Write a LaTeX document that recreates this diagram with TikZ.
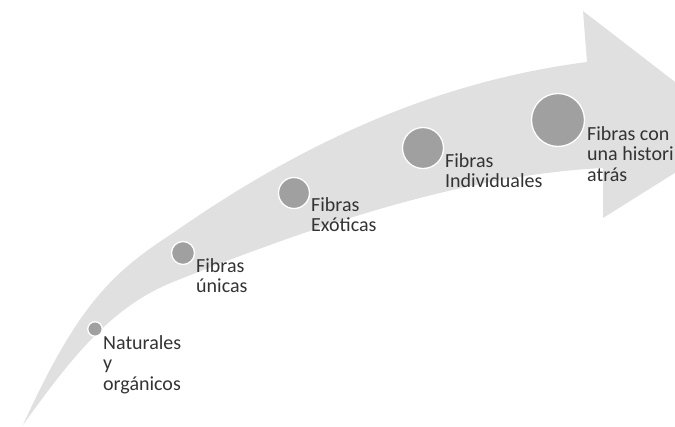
\documentclass[tikz,border=0pt]{standalone}
\usepackage{fontspec}
\setmainfont{Carlito}
\begin{document}
\begin{tikzpicture}[x=1pt,y=-1pt,
  dot/.style={circle,fill=dotgray,draw=white,line width=1.3pt,inner sep=0pt},
  lbl/.style={anchor=north west,inner sep=0pt,align=left,text=txtgray,
    font=\fontsize{20}{20.5}\selectfont}]
\definecolor{arrowgray}{HTML}{E0E0E0}
\definecolor{dotgray}{HTML}{A0A0A0}
\definecolor{txtgray}{HTML}{333333}
\useasboundingbox (0,0) rectangle (675,426);
\begin{scope}
\clip (0,0) rectangle (675,426);
% curved arrow
\fill[arrowgray] (23,425)
  .. controls (78,304) and (113,272) .. (173,233)
  .. controls (313,135) and (447,80) .. (587,62)
  -- (583,11) -- (740,132) -- (603,218) -- (603,168)
  .. controls (463,175) and (313,226) .. (173,282)
  .. controls (113,306) and (73,355) .. (23,425)
  -- cycle;
\end{scope}
% milestones
\node[dot,minimum size=14.5pt] (c1) at (95,329) {};
\node[dot,minimum size=23pt] (c2) at (183,253) {};
\node[dot,minimum size=31pt] (c3) at (294,193) {};
\node[dot,minimum size=41pt] (c4) at (423,148) {};
\node[dot,minimum size=53pt] (c5) at (558,120) {};
% labels
\node[lbl] (t1) at (103,335) {Naturales\\y\\orgánicos};
\node[lbl] (t2) at (196,258) {Fibras\\únicas};
\node[lbl] (t3) at (311,197) {Fibras\\Exóticas};
\node[lbl] (t4) at (445,153) {Fibras\\Individuales};
\node[lbl] (t5) at (587,126) {Fibras con\\una histori\\atrás};
\end{tikzpicture}
\end{document}
